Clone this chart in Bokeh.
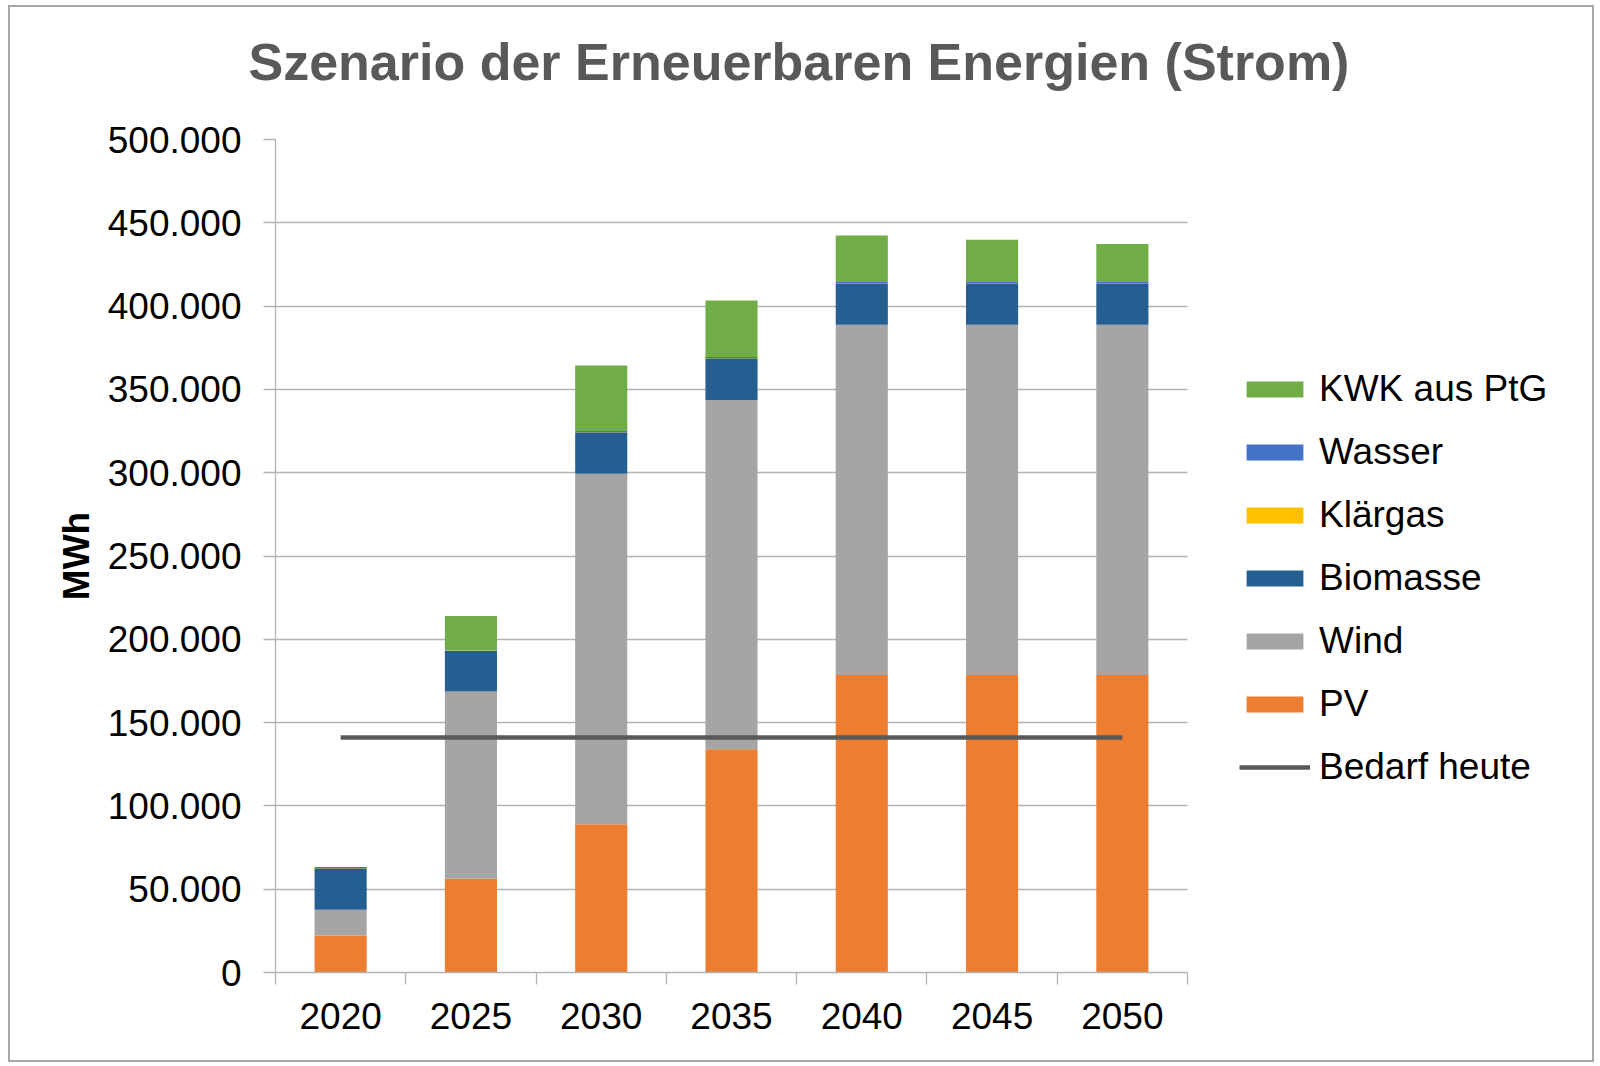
from bokeh.plotting import figure
from bokeh.models import FixedTicker, Legend, LegendItem, Range1d, Title
from bokeh.embed import file_html
from bokeh.resources import INLINE

title_text = "Szenario der Erneuerbaren Energien (Strom)"
years = ["2020", "2025", "2030", "2035", "2040", "2045", "2050"]
pv = [22200, 56200, 89000, 134000, 178500, 178500, 178500]
wind = [15400, 112500, 210300, 209700, 210300, 210300, 210300]
biomasse = [25000, 24500, 25000, 25000, 24900, 24900, 24900]
klaergas = [200, 200, 200, 200, 200, 200, 200]
wasser = [600, 600, 600, 600, 600, 600, 600]
kwk = [0, 20000, 39200, 33900, 27900, 25300, 22700]
bedarf_heute = 141000

y_ticks = [0, 50000, 100000, 150000, 200000, 250000, 300000, 350000, 400000, 450000, 500000]
y_tick_labels = ["0", "50.000", "100.000", "150.000", "200.000", "250.000",
                 "300.000", "350.000", "400.000", "450.000", "500.000"]

series = [("PV", pv, "#ED7D31"), ("Wind", wind, "#A5A5A5"), ("Biomasse", biomasse, "#255E91"),
          ("Klärgas", klaergas, "#FFC000"), ("Wasser", wasser, "#4472C4"), ("KWK aus PtG", kwk, "#70AD47")]

FONT = "Liberation Sans"
GRID = "#b3b3b3"

n = len(years)
centers = [i + 0.5 for i in range(n)]
edges = [i for i in range(n + 1)]

# plot area of the bars is 912 px wide; the frame is extended to the right to hold the legend
bar_area_px = 912
frame_px = 1317
x_end = n * frame_px / bar_area_px

p = figure(frame_width=frame_px, frame_height=833, x_range=Range1d(0, x_end), y_range=Range1d(0, 500000),
           output_backend="svg", toolbar_location=None, title=None,
           min_border_left=265, min_border_right=0, min_border_top=132, min_border_bottom=88)
p.styles = {"border": "2px solid #a6a6a6", "margin-left": "8px", "margin-top": "5px"}

# spacer between frame and title, then the title itself
p.add_layout(Title(text=" ", text_font_size="1px", standoff=46), "above")
p.add_layout(Title(text=title_text, text_font=FONT, text_font_size="52px", text_font_style="bold",
                   text_color="#595959", align="left", offset=-27, standoff=0), "above")

renderers = {}
bottom = [0] * n
for name, vals, color in series:
    top = [b + v for b, v in zip(bottom, vals)]
    r = p.vbar(x=centers, bottom=bottom, top=top, width=0.4, fill_color=color, line_color=None)
    renderers[name] = r
    bottom = top

line_r = p.line(x=[centers[0], centers[-1]], y=[bedarf_heute, bedarf_heute],
                line_color="#595959", line_width=4.5)

# axes
p.yaxis.ticker = FixedTicker(ticks=y_ticks)
p.yaxis.major_label_overrides = dict(zip(y_ticks, y_tick_labels))
p.yaxis.axis_line_color = GRID
p.yaxis.axis_line_width = 1.3
p.yaxis.major_tick_out = 12
p.yaxis.major_tick_in = 0
p.yaxis.major_tick_line_color = GRID
p.yaxis.major_tick_line_width = 1.3
p.yaxis.minor_tick_line_color = None
p.yaxis.major_label_text_font = FONT
p.yaxis.major_label_text_font_size = "37px"
p.yaxis.major_label_text_color = "#000000"
p.yaxis.major_label_standoff = 22
p.yaxis.axis_label = "MWh"
p.yaxis.axis_label_text_font = FONT
p.yaxis.axis_label_text_font_size = "37px"
p.yaxis.axis_label_text_font_style = "bold"
p.yaxis.axis_label_text_color = "#000000"
p.yaxis.axis_label_standoff = 8

p.xaxis.ticker = FixedTicker(ticks=centers, minor_ticks=edges)
p.xaxis.bounds = (0, n)
p.xaxis.major_label_overrides = dict(zip(centers, years))
p.xaxis.axis_line_color = GRID
p.xaxis.axis_line_width = 1.3
p.xaxis.major_tick_line_color = None
p.xaxis.major_tick_out = 0
p.xaxis.major_tick_in = 0
p.xaxis.minor_tick_out = 12
p.xaxis.minor_tick_in = 0
p.xaxis.minor_tick_line_color = GRID
p.xaxis.minor_tick_line_width = 1.3
p.xaxis.major_label_text_font = FONT
p.xaxis.major_label_text_font_size = "37px"
p.xaxis.major_label_text_color = "#000000"
p.xaxis.major_label_standoff = 18

p.xgrid.grid_line_color = None
p.ygrid.grid_line_color = GRID
p.ygrid.grid_line_width = 1.3
p.ygrid.cross_bounds = (0, n)
p.outline_line_color = None

items = [LegendItem(label=name, renderers=[renderers[name]]) for name, _, _ in reversed(series)]
items.append(LegendItem(label="Bedarf heute", renderers=[line_r]))
legend = Legend(items=items, location=(bar_area_px + 52, 184), orientation="vertical",
                glyph_width=71, glyph_height=20, label_height=20, spacing=21,
                label_standoff=9, padding=0, margin=0, border_line_color=None,
                background_fill_alpha=0,
                label_text_font=FONT, label_text_font_size="37px", label_text_color="#000000")
p.add_layout(legend, "center")

open("out.html", "w").write(file_html(p, INLINE))
